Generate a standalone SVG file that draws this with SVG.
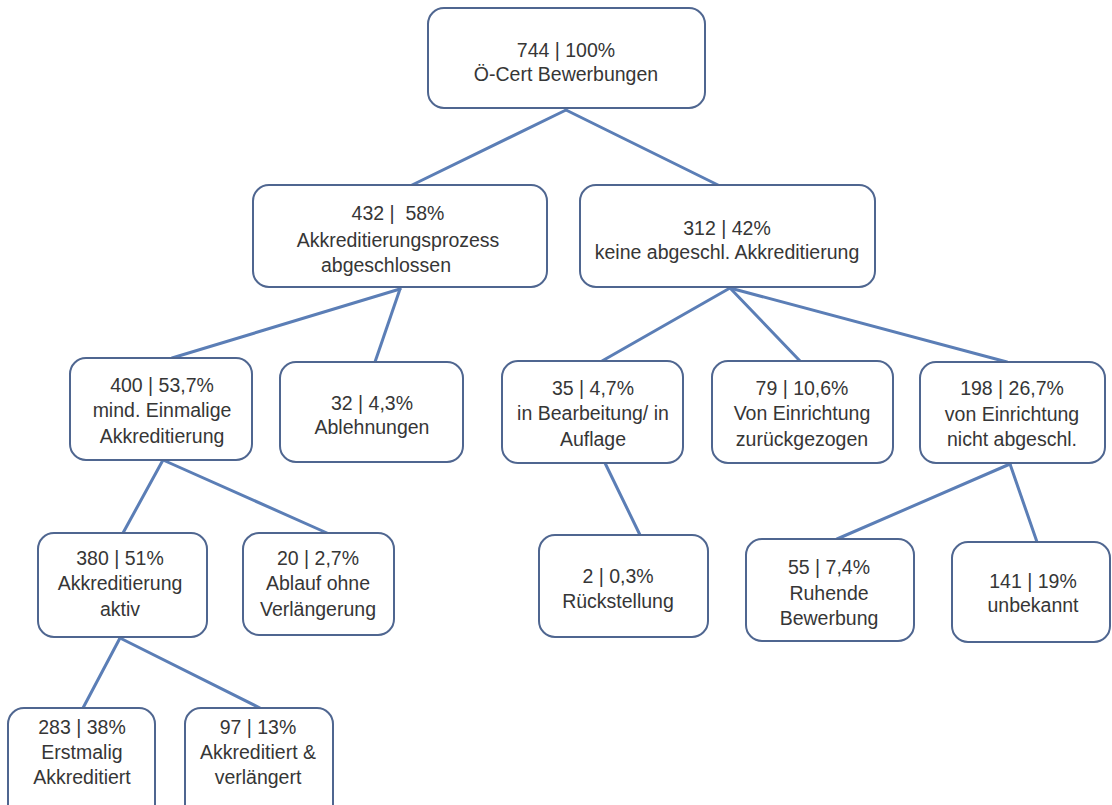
<svg xmlns="http://www.w3.org/2000/svg" width="1112" height="805" viewBox="0 0 1112 805">
<style>
.n rect{fill:#ffffff;stroke:#4f6690;stroke-width:2}
.n text{font-family:"Liberation Sans",Arial,sans-serif;font-size:19.5px;fill:#363636;text-anchor:middle}
#connectors line{stroke:#5b7eb6;stroke-width:3;stroke-linecap:round}
</style>
<rect width="1112" height="805" fill="#ffffff"/>
<g id="connectors">
<line x1="566" y1="110" x2="408" y2="187"/>
<line x1="566" y1="110" x2="722" y2="187"/>
<line x1="400" y1="289" x2="172" y2="358"/>
<line x1="400" y1="289" x2="375" y2="362"/>
<line x1="730" y1="288" x2="602" y2="361"/>
<line x1="730" y1="288" x2="800" y2="361"/>
<line x1="730" y1="288" x2="1007" y2="362"/>
<line x1="163" y1="460" x2="123" y2="533"/>
<line x1="163" y1="460" x2="327" y2="533"/>
<line x1="120" y1="638" x2="83" y2="708"/>
<line x1="120" y1="638" x2="260" y2="708"/>
<line x1="605" y1="463" x2="640" y2="535"/>
<line x1="1010" y1="464" x2="837" y2="539"/>
<line x1="1010" y1="464" x2="1037" y2="542"/>
</g>
<g id="n744" class="n"><rect x="428" y="8" width="277" height="100" rx="16"/><text x="566" y="57">744 | 100%</text><text x="566" y="81">Ö-Cert Bewerbungen</text></g>
<g id="n432" class="n"><rect x="253" y="185" width="294" height="102" rx="16"/><text x="398" y="220">432 |&#160; 58%</text><text x="398" y="247">Akkreditierungsprozess</text><text x="386" y="272">abgeschlossen</text></g>
<g id="n312" class="n"><rect x="580" y="185" width="295" height="102" rx="16"/><text x="727" y="235">312 | 42%</text><text x="727" y="259">keine abgeschl. Akkreditierung</text></g>
<g id="n400" class="n"><rect x="70" y="358" width="182" height="102" rx="16"/><text x="162" y="392">400 | 53,7%</text><text x="162" y="417">mind. Einmalige</text><text x="162" y="443">Akkreditierung</text></g>
<g id="n32" class="n"><rect x="280" y="362" width="183" height="100" rx="16"/><text x="372" y="410">32 | 4,3%</text><text x="372" y="434">Ablehnungen</text></g>
<g id="n35" class="n"><rect x="502" y="361" width="181" height="102" rx="16"/><text x="593" y="395">35 | 4,7%</text><text x="593" y="420">in Bearbeitung/ in</text><text x="593" y="446">Auflage</text></g>
<g id="n79" class="n"><rect x="712" y="361" width="181" height="102" rx="16"/><text x="802" y="395">79 | 10,6%</text><text x="802" y="420">Von Einrichtung</text><text x="802" y="446">zurückgezogen</text></g>
<g id="n198" class="n"><rect x="920" y="362" width="185" height="101" rx="16"/><text x="1012" y="395">198 | 26,7%</text><text x="1012" y="421">von Einrichtung</text><text x="1012" y="446">nicht abgeschl.</text></g>
<g id="n380" class="n"><rect x="38" y="533" width="169" height="104" rx="16"/><text x="120" y="565">380 | 51%</text><text x="120" y="590">Akkreditierung</text><text x="120" y="616">aktiv</text></g>
<g id="n20" class="n"><rect x="243" y="533" width="151" height="102" rx="16"/><text x="318" y="565">20 | 2,7%</text><text x="318" y="590">Ablauf ohne</text><text x="318" y="616">Verlängerung</text></g>
<g id="n2" class="n"><rect x="539" y="535" width="169" height="102" rx="16"/><text x="618" y="583">2 | 0,3%</text><text x="618" y="608">Rückstellung</text></g>
<g id="n55" class="n"><rect x="746" y="539" width="168" height="102" rx="16"/><text x="829" y="574">55 | 7,4%</text><text x="829" y="600">Ruhende</text><text x="829" y="625">Bewerbung</text></g>
<g id="n141" class="n"><rect x="952" y="542" width="158" height="100" rx="16"/><text x="1033" y="588">141 | 19%</text><text x="1033" y="612">unbekannt</text></g>
<g id="n283" class="n"><rect x="8" y="708" width="147" height="112" rx="16"/><text x="82" y="734">283 | 38%</text><text x="82" y="759">Erstmalig</text><text x="82" y="784">Akkreditiert</text></g>
<g id="n97" class="n"><rect x="185" y="708" width="148" height="112" rx="16"/><text x="258" y="734">97 | 13%</text><text x="258" y="759">Akkreditiert &amp;</text><text x="258" y="784">verlängert</text></g>
</svg>
